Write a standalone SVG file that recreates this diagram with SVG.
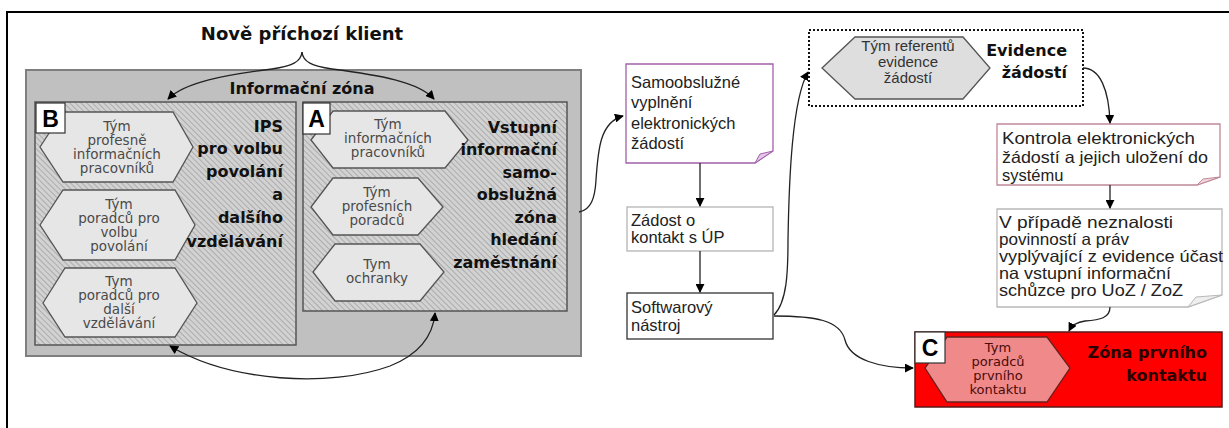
<svg xmlns="http://www.w3.org/2000/svg" width="1229" height="428" viewBox="0 0 1229 428">
  <defs>
    <pattern id="hatch" width="4" height="4" patternUnits="userSpaceOnUse" patternTransform="rotate(-45)">
      <rect width="4" height="4" fill="#d2d2d2"/>
      <line x1="0" y1="0" x2="0" y2="4" stroke="#9c9c9c" stroke-width="1.4"/>
    </pattern>
    <marker id="arr" viewBox="0 0 10 10" refX="9" refY="5" markerWidth="9" markerHeight="9" markerUnits="userSpaceOnUse" orient="auto-start-reverse">
      <path d="M0,0 L10,5 L0,10 Z" fill="#000"/>
    </marker>
    <style>
      .frame { stroke: #000; stroke-width: 2; fill: none; }
      .zone { fill: #c0c0c0; stroke: #7f7f7f; stroke-width: 2; }
      .sub { fill: url(#hatch); stroke: #555; stroke-width: 1.5; }
      .hex { fill: #e6e6e6; stroke: #555; stroke-width: 1.3; }
      .tag { fill: #fff; stroke: #333; stroke-width: 1.2; }
      .tagt { font-family: "Liberation Sans", Arial, sans-serif; font-weight: bold; font-size: 23px; fill: #000; text-anchor: middle; dominant-baseline: central; }
      .ht { font-family: "DejaVu Sans", sans-serif; font-size: 13.5px; fill: #4a4a4a; text-anchor: middle; dominant-baseline: central; }
      .big { font-family: "DejaVu Sans", sans-serif; font-weight: bold; font-size: 16px; fill: #111; dominant-baseline: central; }
      .bt { font-family: "Liberation Sans", Arial, sans-serif; font-size: 16.5px; fill: #222; dominant-baseline: central; }
      .conn path { fill: none; stroke: #222; stroke-width: 1.3; }
    </style>
  </defs>

  <rect width="1229" height="428" fill="#fff"/>
  <path class="frame" d="M7,428 L7,12 L1229,12"/>

  <!-- title -->
  <text class="big" x="302" y="33" text-anchor="middle" style="font-size:18px">Nově příchozí klient</text>

  <!-- information zone -->
  <g id="zone-info">
    <rect class="zone" x="26" y="70" width="555" height="286"/>
    <text class="big" x="302" y="88" text-anchor="middle">Informační zóna</text>
  </g>

  <!-- B: career guidance -->
  <g id="zone-b">
    <rect class="sub" x="35" y="102" width="261" height="243"/>
    <polygon class="hex" points="40,147 63,112 173,112 193,147 173,182 63,182"/>
    <text class="ht" x="117" y="126">Tým</text>
    <text class="ht" x="117" y="140">profesně</text>
    <text class="ht" x="117" y="154">informačních</text>
    <text class="ht" x="117" y="168">pracovníků</text>
    <polygon class="hex" points="40,225 63,190 175,190 195,225 175,260 63,260"/>
    <text class="ht" x="119" y="204">Tým</text>
    <text class="ht" x="119" y="218">poradců pro</text>
    <text class="ht" x="119" y="232">volbu</text>
    <text class="ht" x="119" y="246">povolání</text>
    <polygon class="hex" points="43,303 65,268 175,268 197,303 175,337 65,337"/>
    <text class="ht" x="119" y="281">Tym</text>
    <text class="ht" x="119" y="295">poradců pro</text>
    <text class="ht" x="119" y="309">další</text>
    <text class="ht" x="119" y="323">vzdělávání</text>
    <rect class="tag" x="36" y="103" width="29" height="30"/>
    <text class="tagt" x="50.5" y="119">B</text>
    <text class="big" x="283" y="126" text-anchor="end">IPS</text>
    <text class="big" x="283" y="148" text-anchor="end">pro volbu</text>
    <text class="big" x="283" y="171" text-anchor="end">povolání</text>
    <text class="big" x="283" y="194" text-anchor="end">a</text>
    <text class="big" x="283" y="217" text-anchor="end">dalšího</text>
    <text class="big" x="283" y="241" text-anchor="end">vzdělávání</text>
  </g>

  <!-- A: self-service job search -->
  <g id="zone-a">
    <rect class="sub" x="303" y="102" width="264" height="209"/>
    <polygon class="hex" points="311,140 333,111 445,111 468,140 445,168 333,168"/>
    <text class="ht" x="388" y="124">Tým</text>
    <text class="ht" x="388" y="138">informačních</text>
    <text class="ht" x="388" y="152">pracovníků</text>
    <polygon class="hex" points="311,207 333,178 418,178 443,207 418,235 333,235"/>
    <text class="ht" x="377" y="192">Tým</text>
    <text class="ht" x="377" y="206">profesních</text>
    <text class="ht" x="377" y="220">poradců</text>
    <polygon class="hex" points="313,272 335,244 420,244 444,272 420,301 335,301"/>
    <text class="ht" x="377" y="264">Tym</text>
    <text class="ht" x="377" y="278">ochranky</text>
    <rect class="tag" x="303" y="103" width="27" height="31"/>
    <text class="tagt" x="316.5" y="119">A</text>
    <text class="big" x="557" y="127" text-anchor="end">Vstupní</text>
    <text class="big" x="557" y="149" text-anchor="end">informační</text>
    <text class="big" x="557" y="172" text-anchor="end">samo-</text>
    <text class="big" x="557" y="194" text-anchor="end">obslužná</text>
    <text class="big" x="557" y="217" text-anchor="end">zóna</text>
    <text class="big" x="557" y="239" text-anchor="end">hledání</text>
    <text class="big" x="557" y="262" text-anchor="end">zaměstnání</text>
  </g>

  <!-- online application form -->
  <g id="n-samoobsluzne">
    <path d="M626,64 L773,64 L773,151 L755,163 L626,163 Z" fill="#fff" stroke="#a060a8" stroke-width="1.3"/>
    <path d="M755,163 L760,154 L773,151 Z" fill="#e6c6ea" stroke="#a060a8" stroke-width="1"/>
    <text class="bt" x="631" y="82">Samoobslužné</text>
    <text class="bt" x="631" y="102">vyplnění</text>
    <text class="bt" x="631" y="123">elektronických</text>
    <text class="bt" x="631" y="143">žádostí</text>
  </g>

  <g id="n-zadost">
    <rect x="627" y="207" width="146" height="44" fill="#fff" stroke="#b4b4b4" stroke-width="1.3"/>
    <text class="bt" x="631" y="220">Zádost o</text>
    <text class="bt" x="631" y="237">kontakt s ÚP</text>
  </g>

  <g id="n-software">
    <rect x="627" y="293" width="146" height="46" fill="#fff" stroke="#333" stroke-width="1.3"/>
    <text class="bt" x="631" y="307">Softwarový</text>
    <text class="bt" x="631" y="325">nástroj</text>
  </g>

  <!-- registry of applications -->
  <g id="n-evidence">
    <rect x="809" y="30" width="274" height="76" fill="#fff" stroke="#111" stroke-width="2" stroke-dasharray="2,2"/>
    <polygon points="822,68 855,37 963,37 990,68 963,99 855,99" fill="#dedede" stroke="#555" stroke-width="1.3"/>
    <text class="bt" x="908" y="45" text-anchor="middle" style="font-size:15px;fill:#333">Tým referentů</text>
    <text class="bt" x="908" y="61" text-anchor="middle" style="font-size:15px;fill:#333">evidence</text>
    <text class="bt" x="908" y="77" text-anchor="middle" style="font-size:15px;fill:#333">žádostí</text>
    <text class="big" x="1067" y="50" text-anchor="end">Evidence</text>
    <text class="big" x="1067" y="72" text-anchor="end">žádostí</text>
  </g>

  <g id="n-kontrola">
    <path d="M997,124 L1220,124 L1220,177 L1197,185 L997,185 Z" fill="#fff" stroke="#c08898" stroke-width="1.3"/>
    <path d="M1197,185 L1203,179 L1220,177 Z" fill="#f0d8de" stroke="#c08898" stroke-width="1"/>
    <text class="bt" x="1002" y="138" textLength="193" lengthAdjust="spacingAndGlyphs">Kontrola elektronických</text>
    <text class="bt" x="1002" y="157" textLength="206" lengthAdjust="spacingAndGlyphs">žádostí a jejich uložení do</text>
    <text class="bt" x="1002" y="175">systému</text>
  </g>

  <g id="n-pripad">
    <path d="M997,209 L1222,209 L1222,295 L1188,307 L997,307 Z" fill="#fff" stroke="#b8b8b8" stroke-width="1.3"/>
    <path d="M1188,307 L1196,297 L1222,295 Z" fill="#eee" stroke="#b8b8b8" stroke-width="1"/>
    <text class="bt" x="999" y="222" textLength="174" lengthAdjust="spacingAndGlyphs">V případě neznalosti</text>
    <text class="bt" x="999" y="239" textLength="130" lengthAdjust="spacingAndGlyphs">povinností a práv</text>
    <text class="bt" x="999" y="256" textLength="224" lengthAdjust="spacingAndGlyphs">vyplývající z evidence účast</text>
    <text class="bt" x="999" y="273" textLength="172" lengthAdjust="spacingAndGlyphs">na vstupní informační</text>
    <text class="bt" x="999" y="290" textLength="184" lengthAdjust="spacingAndGlyphs">schůzce pro UoZ / ZoZ</text>
  </g>

  <!-- C: first contact -->
  <g id="zone-c">
    <rect x="915" y="332" width="307" height="75" fill="#ff0000" stroke="#5a1a1a" stroke-width="1.5"/>
    <polygon points="925,368 947,337 1047,337 1070,368 1047,402 947,402" fill="#f08a8a" stroke="#6a2020" stroke-width="1.3"/>
    <text class="ht" x="998" y="347" style="font-size:13px;fill:#4a0a0a">Tym</text>
    <text class="ht" x="998" y="361" style="font-size:13px;fill:#4a0a0a">poradců</text>
    <text class="ht" x="998" y="375" style="font-size:13px;fill:#4a0a0a">prvního</text>
    <text class="ht" x="998" y="389" style="font-size:13px;fill:#4a0a0a">kontaktu</text>
    <rect class="tag" x="915" y="332" width="30" height="31"/>
    <text class="tagt" x="930" y="348">C</text>
    <text class="big" x="1207" y="352" text-anchor="end" style="fill:#2a0000">Zóna prvního</text>
    <text class="big" x="1207" y="375" text-anchor="end" style="fill:#2a0000">kontaktu</text>
  </g>

  <!-- connectors -->
  <g class="conn" id="connectors">
    <path d="M302,52 C301,62 292,66 272,69 C225,75 185,82 168,99" marker-end="url(#arr)"/>
    <path d="M302,52 C303,62 312,66 332,69 C379,75 419,82 434,99" marker-end="url(#arr)"/>
    <path d="M170,346 C230,382 330,388 390,366 C420,354 433,336 435,313" marker-start="url(#arr)" marker-end="url(#arr)"/>
    <path d="M579,212 C591,210 595,198 596,180 C598,150 600,122 623,116" marker-end="url(#arr)"/>
    <path d="M700,163 L700,206" marker-end="url(#arr)"/>
    <path d="M700,251 L700,292" marker-end="url(#arr)"/>
    <path d="M774,315 C787,302 788,272 788,240 C789,180 792,100 808,72" marker-end="url(#arr)"/>
    <path d="M774,316 C815,316 840,320 845,340 C850,360 880,368 913,368" marker-end="url(#arr)"/>
    <path d="M1083,68 C1100,68 1109,90 1110,123" marker-end="url(#arr)"/>
    <path d="M1110,185 L1110,208" marker-end="url(#arr)"/>
    <path d="M1110,307 C1110,318 1100,320 1085,321 C1077,322 1072,325 1069,331" marker-end="url(#arr)"/>
  </g>
</svg>
